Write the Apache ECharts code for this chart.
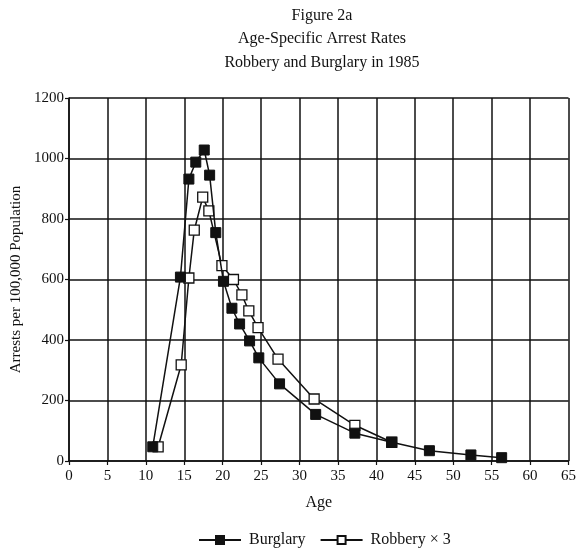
<!DOCTYPE html>
<html>
<head>
<meta charset="utf-8">
<script src="https://cdn.jsdelivr.net/npm/echarts@6/dist/echarts.min.js"></script>
<style>html,body{margin:0;padding:0;background:#fff;}#c{width:579px;height:555px;}</style>
</head>
<body>
<div id="c"></div>
<script>
var burglaryAge = [10.9, 14.5, 15.6, 16.5, 17.6, 18.3, 19.1, 20.1, 21.2, 22.2, 23.5, 24.7, 27.4, 32.1, 37.2, 42.0, 46.9, 52.3, 56.3];
var burglaryRate = [47, 608, 932, 988, 1028, 945, 755, 594, 505, 453, 397, 341, 255, 154, 92, 62, 34, 20, 11];
var robberyAge = [11.6, 14.6, 15.6, 16.3, 17.4, 18.2, 19.9, 21.4, 22.5, 23.4, 24.6, 27.2, 31.9, 37.2, 42.0];
var robberyRate = [47, 318, 605, 763, 872, 827, 646, 600, 549, 496, 441, 337, 205, 118, 62];
var titleLines = ['Figure 2a', 'Age-Specific Arrest Rates', 'Robbery and Burglary in 1985'];
var xAxisName = 'Age';
var yAxisName = 'Arrests per 100,000 Population';
var seriesNames = ['Burglary', 'Robbery \u00d7 3'];

function pairs(xs, ys) { return xs.map(function (x, i) { return [x, ys[i]]; }); }
var FONT = '"Liberation Serif", "DejaVu Serif", serif';
var chart = echarts.init(document.getElementById('c'), null, { renderer: 'canvas' });
chart.setOption({
  animation: false,
  backgroundColor: '#fff',
  title: {
    text: titleLines.join('\n'),
    left: 317, top: -1, textAlign: 'center',
    textStyle: { fontFamily: FONT, fontSize: 16, fontWeight: 'normal', color: '#111', lineHeight: 23.5 }
  },
  grid: { left: 69, right: 10, top: 98, bottom: 94, containLabel: false },
  xAxis: {
    type: 'value', min: 0, max: 65, interval: 5,
    name: xAxisName, nameLocation: 'middle', nameGap: 34,
    nameTextStyle: { fontFamily: FONT, fontSize: 16, color: '#111' },
    axisLine: { lineStyle: { color: '#111', width: 1.5 } },
    axisTick: { show: true, length: 4, lineStyle: { color: '#111', width: 1.2 } },
    axisLabel: { fontFamily: FONT, fontSize: 15, color: '#111', margin: 8 },
    splitLine: { show: true, lineStyle: { color: '#111', width: 1.5 } }
  },
  yAxis: {
    type: 'value', min: 0, max: 1200, interval: 200,
    name: yAxisName, nameLocation: 'middle', nameGap: 45,
    nameTextStyle: { fontFamily: FONT, fontSize: 15, color: '#111' },
    axisLine: { show: true, lineStyle: { color: '#111', width: 1.5 } },
    axisTick: { show: true, length: 4, lineStyle: { color: '#111', width: 1.2 } },
    axisLabel: { fontFamily: FONT, fontSize: 15, color: '#111', margin: 5, formatter: function (v) { return String(v); } },
    splitLine: { show: true, lineStyle: { color: '#111', width: 1.5 } }
  },
  legend: {
    bottom: 2, left: 193, itemGap: 14, itemWidth: 42, itemHeight: 10,
    textStyle: { fontFamily: FONT, fontSize: 16, color: '#111', padding: [0, 0, 0, 3] },
    data: seriesNames
  },
  series: [
    {
      name: seriesNames[0], type: 'line', data: pairs(burglaryAge, burglaryRate),
      symbol: 'rect', symbolSize: 10,
      lineStyle: { color: '#111', width: 1.5 },
      itemStyle: { color: '#111', borderColor: '#111', borderWidth: 1 },
      z: 3
    },
    {
      name: seriesNames[1], type: 'line', data: pairs(robberyAge, robberyRate),
      symbol: 'rect', symbolSize: 10,
      lineStyle: { color: '#111', width: 1.5 },
      itemStyle: { color: '#fff', borderColor: '#111', borderWidth: 1.3 },
      z: 2
    }
  ]
});
</script>
</body>
</html>
